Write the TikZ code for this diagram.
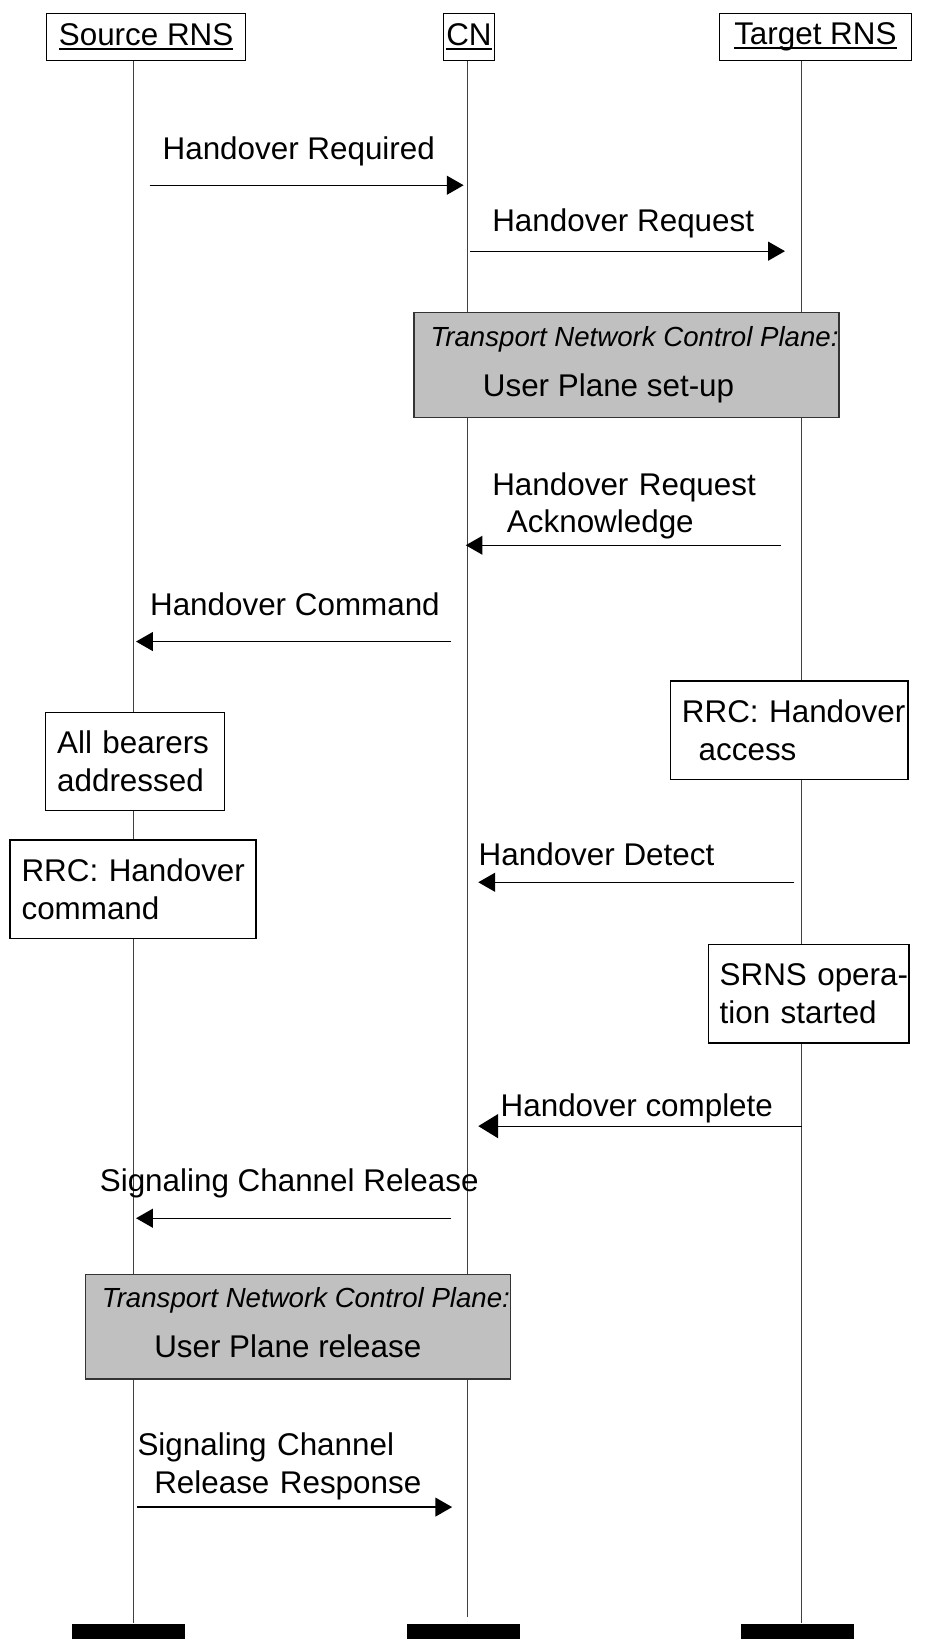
\documentclass[tikz,border=0pt]{standalone}
\usepackage{fontspec}
\setmainfont{Liberation Sans}
\usetikzlibrary{arrows.meta}

\definecolor{tncpgray}{RGB}{192,192,192}

% underlined entity name, line at a fixed depth
\newcommand{\entityname}[1]{\setbox0=\hbox{#1}\rlap{\rule[-2.2pt]{\wd0}{1.1pt}}\box0}

\tikzset{
  hdr/.style={draw, line width=0.6pt, anchor=north west, inner sep=0pt, minimum height=22.5pt},
  endbar/.style={fill=black, anchor=north west, inner sep=0pt, minimum width=54pt, minimum height=7.5pt},
  life/.style={draw=black!75, line width=0.5pt},
  msg/.style={line width=0.6pt, -{Triangle[length=8pt,width=9pt]}},
  lbl/.style={anchor=base west, inner sep=0pt},
  lbltwo/.style={anchor=base west, inner sep=0pt, text width=150pt, align=left},
  actbox/.style={draw, line width=0.6pt, fill=white, anchor=north west, align=left,
    inner xsep=5.5pt, inner ysep=0pt, minimum height=47pt,
    execute at begin node={\hyphenpenalty=10000\exhyphenpenalty=10000}},
  tncp/.style={draw=black!80, line width=0.6pt, fill=tncpgray, anchor=north west,
    inner sep=0pt, minimum width=203pt, minimum height=50pt},
  tncptitle/.style={lbl, font=\itshape\fontsize{13.2}{16}\selectfont},
}

\begin{document}
\begin{tikzpicture}[x=0.5pt, y=-0.5pt, font=\fontsize{15}{18}\selectfont]
\useasboundingbox (0,0) rectangle (905,1567);

% Entities on top, end bars at the bottom
\node[hdr, minimum width=95pt] (src) at (44,12) {\entityname{Source RNS}};
\node[hdr, minimum width=24.5pt] (cn) at (423,12) {\entityname{CN}};
\node[hdr, minimum width=91.5pt] (tgt) at (687,12) {\entityname{Target RNS}};

\node[endbar] (srcend) at (68,1551) {};
\node[endbar] (cnend) at (388,1551) {};
\node[endbar] (tgtend) at (708,1551) {};

% Lifelines
\coordinate (srcx) at (128,0);
\coordinate (cnx) at (447,0);
\coordinate (tgtx) at (766,0);
\coordinate (cnstop) at (447,1545);
\draw[life] (srcx |- src.south) -- (srcx |- srcend.north);
\draw[life] (cnx |- cn.south) -- (cnstop);
\draw[life] (tgtx |- tgt.south) -- (tgtx |- tgtend.north);

% Messages
\foreach \m/\xa/\xb/\y in {req/143/443/177, rqt/449/750/240, ack/746/445/521,
  cmd/431/130/613, det/759/457/843, scr/431/130/1164, scrr/131/432/1440}
{
  \coordinate (\m-a) at (\xa,\y);
  \coordinate (\m-b) at (\xb,\y);
  \draw[msg] (\m-a) -- (\m-b);
}
\coordinate (cmp-a) at (766,1076);
\coordinate (cmp-b) at (457,1076);
\draw[line width=0.6pt, -{Triangle[length=9.5pt,width=11.5pt]}] (cmp-a) -- (cmp-b);

% Message labels
\node[lbl] (req-l) at (155,152) {Handover Required};
\node[lbl] (rqt-l) at (470,221) {Handover Request};
\node[lbltwo] (ack-l) at (470,473) {Handover Request\\\hspace*{7pt}Acknowledge};
\node[lbl] (cmd-l) at (143,588) {Handover Command};
\node[lbl] (det-l) at (457,827) {Handover Detect};
\node[lbl] (cmp-l) at (478,1067) {Handover complete};
\node[lbl] (scr-l) at (95,1138) {Signaling Channel Release};
\node[lbltwo] (scrr-l) at (131,1391) {Signaling Channel\\\hspace*{8pt}Release Response};

% Local actions
\node[actbox, text width=74.5pt] (bear) at (43,680) {All~bearers\\addressed};
\node[actbox, text width=102.5pt] (rrca) at (640,650) {RRC:~Handover\\\hspace*{8pt}access};
\node[actbox, text width=106.5pt] (rrcc) at (9,802) {RRC:~Handover\\command};
\node[actbox, text width=85pt] (srns) at (676,902) {SRNS~opera-\\tion~started};

% Transport network control plane
\node[tncp] (tncpa) at (395,298) {};
\begin{scope}
  \clip (tncpa.south west) rectangle (tncpa.north east);
  \node[tncptitle] (tncpa-t) at ([shift={(16,33)}]tncpa.north west) {Transport Network Control Plane:};
\end{scope}
\node[lbl] (tncpa-u) at ([shift={(66,81)}]tncpa.north west) {User Plane set-up};

\node[tncp] (tncpb) at (81,1217) {};
\begin{scope}
  \clip (tncpb.south west) rectangle (tncpb.north east);
  \node[tncptitle] (tncpb-t) at ([shift={(16,32)}]tncpb.north west) {Transport Network Control Plane:};
\end{scope}
\node[lbl] (tncpb-u) at ([shift={(66,80)}]tncpb.north west) {User Plane release};

\end{tikzpicture}
\end{document}
